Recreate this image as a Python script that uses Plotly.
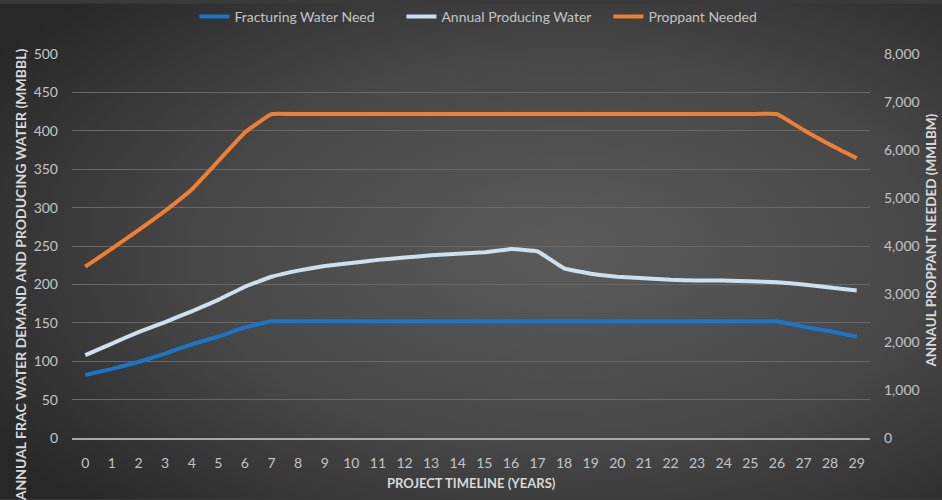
import base64
import plotly.graph_objects as go

# Project timeline (years)
years = list(range(30))

# Annual fracturing water need (MMBBL)
frac_water = [82, 90, 99, 110, 122, 132, 144, 152, 152, 152,
              152, 152, 152, 152, 152, 152, 152, 152, 152, 152,
              152, 152, 152, 152, 152, 152, 152, 145, 139, 132]

# Annual producing water (MMBBL)
producing_water = [108, 123, 138, 151, 165, 180, 197, 210, 218, 224,
                   228, 232, 235, 238, 240, 242, 246, 243, 221, 214,
                   210, 208, 206, 205, 205, 204, 203, 200, 196, 192]

# Annual proppant needed (MMLBM)
proppant = [3570, 3945, 4330, 4735, 5180, 5770, 6365, 6750, 6750, 6750,
            6750, 6750, 6750, 6750, 6750, 6750, 6750, 6750, 6750, 6750,
            6750, 6750, 6750, 6750, 6750, 6750, 6750, 6420, 6110, 5830]

left_ticks = list(range(0, 501, 50))
right_ticks = list(range(0, 8001, 1000))

FONT = "Lato, 'Open Sans', sans-serif"
TEXT = "#c4c4c4"
TITLE = "#d8d8d8"
GRID = "#686868"

# Dark radial-gradient backdrop for the whole canvas
svg = (
    '<svg xmlns="http://www.w3.org/2000/svg" width="942" height="500" '
    'preserveAspectRatio="none" viewBox="0 0 942 500">'
    '<defs><radialGradient id="g" cx="0.6" cy="0.5" r="0.72">'
    '<stop offset="0" stop-color="#5b5b5b"/>'
    '<stop offset="0.55" stop-color="#474747"/>'
    '<stop offset="1" stop-color="#282828"/>'
    '</radialGradient></defs>'
    '<rect width="942" height="500" fill="url(#g)"/></svg>'
)
bg_uri = "data:image/svg+xml;base64," + base64.b64encode(svg.encode()).decode()

fig = go.Figure()

line_style = dict(width=4, shape="spline", smoothing=0.3)
fig.add_trace(go.Scatter(
    x=years, y=frac_water, name="Fracturing Water Need", mode="lines",
    line=dict(color="#1b75c9", **line_style),
))
fig.add_trace(go.Scatter(
    x=years, y=producing_water, name="Annual Producing Water", mode="lines",
    line=dict(color="#cce0f2", **line_style),
))
fig.add_trace(go.Scatter(
    x=years, y=proppant, name="Proppant Needed", mode="lines", yaxis="y2",
    line=dict(color="#ee7f33", **line_style),
))

L, R, T, B = 72, 72, 51, 62
W, H = 942, 500
pw, ph = W - L - R, H - T - B


def px_x(x):
    return (x - L) / pw


def px_y(y):
    return (T + ph - y) / ph


fig.update_layout(
    width=W, height=H,
    margin=dict(l=L, r=R, t=T, b=B),
    paper_bgcolor="#3a3a3a",
    plot_bgcolor="rgba(0,0,0,0)",
    font=dict(family=FONT, color=TEXT, size=14),
    showlegend=True,
    legend=dict(
        orientation="h", xref="container", yref="container",
        x=0.536, xanchor="center", y=0.966, yanchor="middle",
        font=dict(family=FONT, size=14, color=TEXT),
        bgcolor="rgba(0,0,0,0)", itemwidth=30, tracegroupgap=0,
        entrywidth=162, entrywidthmode="pixels",
    ),
    xaxis=dict(
        type="category",
        tickmode="array", tickvals=years, ticktext=[str(y) for y in years],
        range=[-0.5, 29.5],
        showgrid=False, zeroline=False,
        showline=True, linecolor="#a9a9a9", linewidth=2,
        ticks="", ticklabelstandoff=11,
        tickfont=dict(size=14, color=TEXT),
    ),
    yaxis=dict(
        range=[0, 500], tickvals=left_ticks,
        showgrid=True, gridcolor=GRID, gridwidth=1,
        zeroline=False, showline=False, ticks="",
        ticklabelstandoff=13,
        tickfont=dict(size=14, color=TEXT),
    ),
    yaxis2=dict(
        range=[0, 8000], tickvals=right_ticks, tickformat=",d",
        overlaying="y", side="right",
        showgrid=False, zeroline=False, showline=False, ticks="",
        ticklabelstandoff=13,
        tickfont=dict(size=14, color=TEXT),
    ),
    annotations=[
        dict(text="<b>PROJECT TIMELINE (YEARS)</b>", xref="paper", yref="paper",
             x=px_x(471), y=px_y(483), xanchor="center", yanchor="middle",
             showarrow=False, font=dict(family=FONT, size=13, color=TITLE)),
        dict(text="<b>ANNUAL FRAC WATER DEMAND AND PRODUCING WATER (MMBBL)</b>",
             xref="paper", yref="paper", x=px_x(20), y=px_y(274),
             xanchor="center", yanchor="middle", textangle=-90,
             showarrow=False, font=dict(family=FONT, size=14, color=TITLE)),
        dict(text="<b>ANNAUL PROPPANT NEEDED (MMLBM)</b>",
             xref="paper", yref="paper", x=px_x(931), y=px_y(239),
             xanchor="center", yanchor="middle", textangle=-90,
             showarrow=False, font=dict(family=FONT, size=13.5, color=TITLE)),
    ],
    images=[dict(
        source=bg_uri, xref="paper", yref="paper",
        x=-L / pw, y=1 + T / ph, sizex=W / pw, sizey=H / ph,
        xanchor="left", yanchor="top", sizing="stretch", layer="below",
    )],
)

fig.write_html("out.html")
